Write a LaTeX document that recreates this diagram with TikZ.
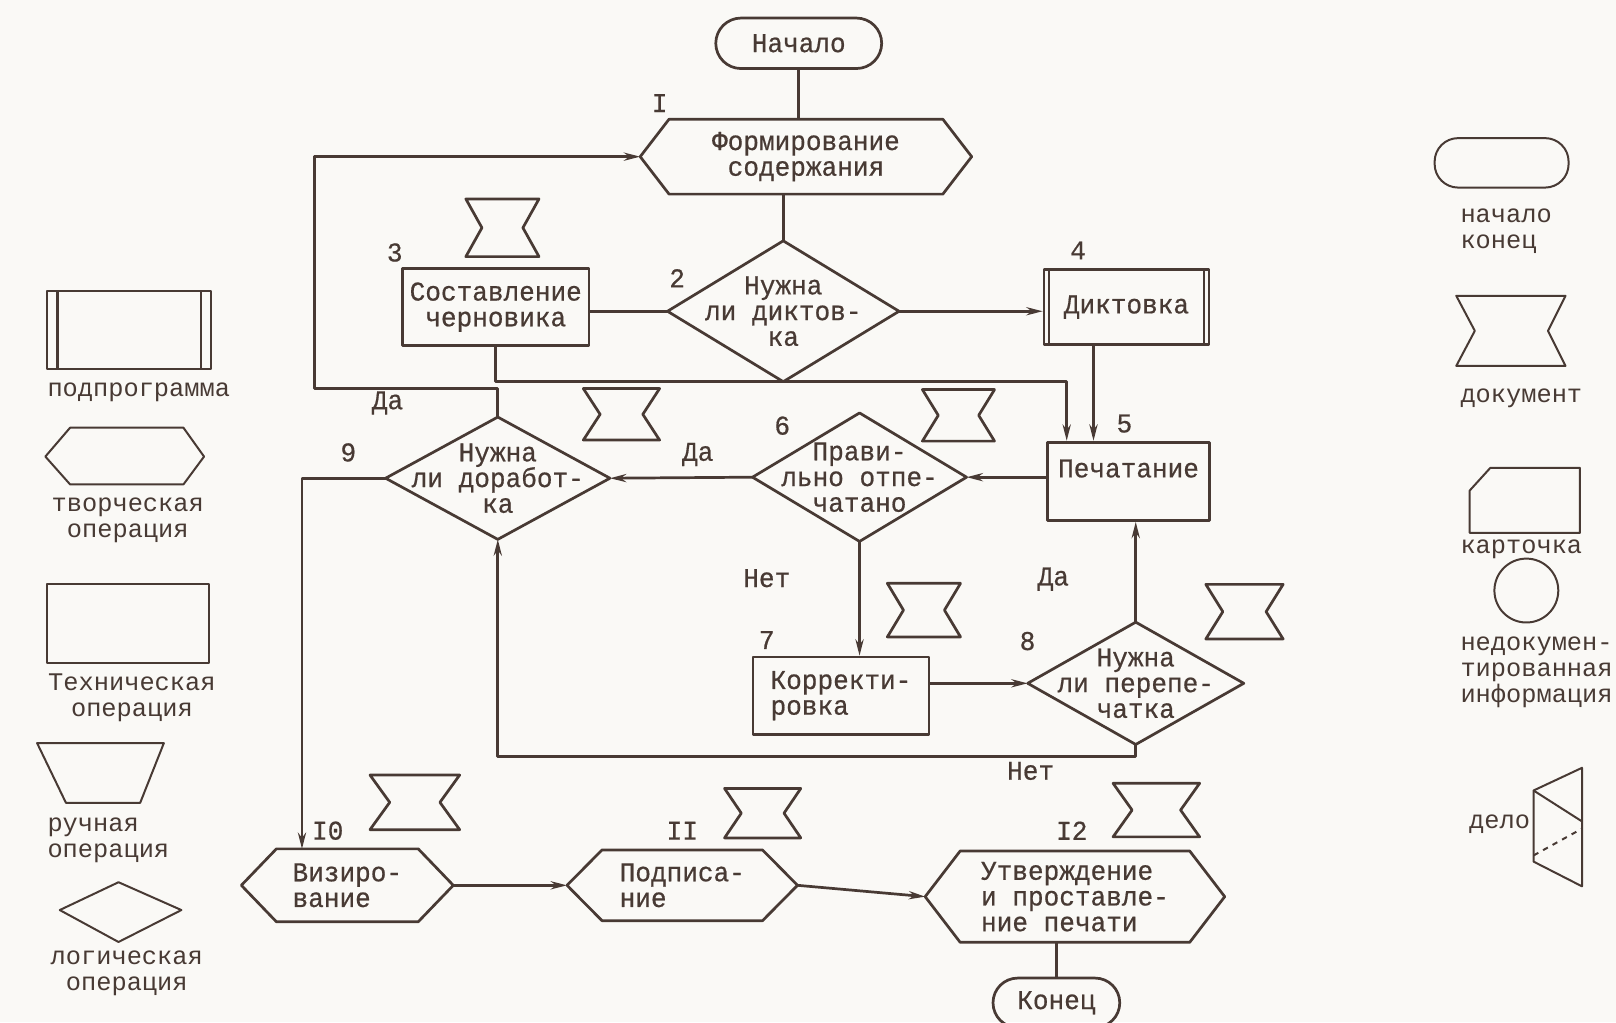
\documentclass[tikz,border=0pt]{standalone}
\usepackage{fontspec}
\newfontfamily\tw[FakeStretch=0.96,FakeBold=0.6]{Liberation Mono}
\newfontfamily\lgfont{Liberation Mono}
\usetikzlibrary{arrows.meta,shapes.misc}
\definecolor{ink}{RGB}{72,58,52}
\definecolor{paper}{RGB}{250,249,246}

\begin{document}
\begin{tikzpicture}[x=0.02cm,y=-0.02cm,
    every node/.style={text=ink,font={\tw\fontsize{15pt}{14.2pt}\selectfont},inner sep=1pt},
    flowline/.style={draw=ink,line width=1.5pt,line join=round},
    flowarrow/.style={flowline,-{Stealth[length=9pt,width=4.5pt]}},
    startend/.style={flowline,rounded rectangle,inner sep=0pt},
    techop/.style={flowline,rectangle,inner sep=0pt},
    logic/.style={rectangle,inner sep=0pt,align=center},
    creative/.style={rectangle,inner sep=0pt},
    legend/.style={font={\lgfont\fontsize{14pt}{14.4pt}\selectfont}},
    thinline/.style={draw=ink,line width=1.1pt,line join=round}]
    \useasboundingbox (0,0) rectangle (1568,992);
    \fill[paper] (0,0) rectangle (1568,992);

    % blocks of the scheme
    \node[startend,minimum width=3.22cm,minimum height=0.98cm] (start) at (775,42) {Начало};
    \node[creative,minimum width=6.42cm,minimum height=1.44cm,align=center] (form) at (782,152) {Формирование\\содержания};
    \node[logic,minimum width=4.48cm,minimum height=2.72cm] (d2) at (760,302) {Нужна\\ли диктов-\\ка};
    \node[techop,minimum width=3.62cm,minimum height=1.5cm,align=center] (draft) at (481,298) {Составление\\черновика};
    \node[techop,minimum width=3.2cm,minimum height=1.46cm] (dict) at (1093,298) {Диктовка};
    \node[techop,minimum width=3.14cm,minimum height=1.52cm,align=left] (print) at (1095,467) {Печатание\\~};
    \node[logic,minimum width=4.14cm,minimum height=2.48cm] (d6) at (834,463) {Прави-\\льно отпе-\\чатано};
    \node[logic,minimum width=4.34cm,minimum height=2.36cm] (d9) at (483,464) {Нужна\\ли доработ-\\ка};
    \node[techop,minimum width=3.42cm,minimum height=1.5cm,align=left] (corr) at (816,675) {Корректи-\\ровка};
    \node[logic,minimum width=4.18cm,minimum height=2.36cm] (d8) at (1102,663) {Нужна\\ли перепе-\\чатка};
    \node[creative,minimum width=4.1cm,minimum height=1.4cm,align=left] (viz) at (337,859) {Визиро-\\вание};
    \node[creative,minimum width=4.46cm,minimum height=1.36cm,align=left] (podp) at (662,859) {Подписа-\\ние};
    \node[creative,minimum width=5.8cm,minimum height=1.76cm,align=left] (appr) at (1043,870) {Утверждение\\и проставле-\\ние печати};
    \node[startend,minimum width=2.46cm,minimum height=0.96cm] (finish) at (1025,973) {Конец};

    \foreach \n/\p in {form/0.56cm,viz/0.68cm,podp/0.68cm,appr/0.68cm}
        \draw[flowline] (\n.west) -- ([xshift=\p]\n.north west) -- ([xshift=-\p]\n.north east) -- (\n.east) -- ([xshift=-\p]\n.south east) -- ([xshift=\p]\n.south west) -- cycle;
    \foreach \n in {d2,d6,d8,d9}
        \draw[flowline] (\n.north) -- (\n.east) -- (\n.south) -- (\n.west) -- cycle;
    \draw[flowline] ([xshift=0.12cm]dict.north west) -- ([xshift=0.12cm]dict.south west)
        ([xshift=-0.12cm]dict.north east) -- ([xshift=-0.12cm]dict.south east);

    % documents
    \foreach \xa/\ya/\xb/\yb in {452/193/523/249,566/377/640/427,895/378/965/428,861/566/932/618,1170/567/1245/620,359/752/446/805,703/765/777/813,1080/760/1164/812}
        \draw[flowline] (\xa,\ya) -- (\xb,\ya) -- ({\xb-0.22*(\xb-\xa)},{(\ya+\yb)/2}) -- (\xb,\yb) -- (\xa,\yb) -- ({\xa+0.22*(\xb-\xa)},{(\ya+\yb)/2}) -- cycle;

    % connectors
    \coordinate (loopcorner) at (305,377);
    \draw[flowline] (start.south) -- (start.south |- form.north);
    \draw[flowline] (d2.north |- form.south) -- (d2.north);
    \draw[flowline] (d2.west) -- (d2.west -| draft.east);
    \draw[flowarrow] (d2.east) -- (d2.east -| dict.west);
    \draw[flowarrow] (draft.south) |- (d2.south) -| ([xshift=-1.2cm]print.north);
    \draw[flowarrow] ([xshift=-0.64cm]dict.south) -- ([xshift=-0.64cm]dict.south |- print.north);
    \draw[flowarrow] (print.west |- d6.east) -- (d6.east);
    \draw[flowarrow] (d6.west) -- (d9.east);
    \draw[flowarrow] (d6.south) -- (d6.south |- corr.north);
    \draw[flowarrow] (corr.east |- d8.west) -- (d8.west);
    \draw[flowarrow] (d8.north) -- (d8.north |- print.south);
    \draw[flowarrow] (d8.south) -- ++(0,12) -| (d9.south);
    \draw[flowarrow] (d9.north) |- (loopcorner) |- (form.west);
    \draw[flowarrow] (d9.west) -| ([xshift=-0.88cm]viz.north);
    \draw[flowarrow] (viz.east) -- (podp.west);
    \draw[flowarrow] (podp.east) -- (appr.west);
    \draw[flowline] (finish.north |- appr.south) -- (finish.north);

    % numbers and answers
    \node (n1) at (640,100) {I};
    \node (n2) at (657,270) {2};
    \node (n3) at (383,245) {3};
    \node (n4) at (1046,243) {4};
    \node (n5) at (1091,411) {5};
    \node (n6) at (759,413) {6};
    \node (n7) at (744,621) {7};
    \node (n8) at (997,622) {8};
    \node (n9) at (338,439) {9};
    \node (n10) at (318,806) {I0};
    \node (n11) at (662,806) {II};
    \node (n12) at (1040,806) {I2};
    \node (yes1) at (376,391) {Да};
    \node (yes2) at (677,441) {Да};
    \node (yes3) at (1022,562) {Да};
    \node (no1) at (744,561) {Нет};
    \node (no2) at (1000,748) {Нет};

    % legend, left
    \draw[thinline] (46,282) rectangle (205,358);
    \draw[flowline] (56,282) -- (56,358) (195,282) -- (195,358);
    \node[legend,anchor=west] (lsub) at (44,381) {подпрограмма};
    \draw[thinline] (44,443) -- (68,415) -- (178,415) -- (198,443) -- (178,470) -- (68,470) -- cycle;
    \node[legend,align=center] (lcre) at (124,505) {творческая\\операция};
    \draw[thinline] (46,567) rectangle (203,643);
    \node[legend,align=center] (ltech) at (128,677) {Техническая\\операция};
    \draw[thinline] (36,721) -- (159,721) -- (136,779) -- (64,779) -- cycle;
    \node[legend,align=left,anchor=west] (lman) at (44,815) {ручная\\операция};
    \draw[thinline] (58,883) -- (115,856) -- (176,883) -- (115,914) -- cycle;
    \node[legend,align=center] (llog) at (123,944) {логическая\\операция};

    % legend, right
    \draw[thinline,rounded corners=13pt] (1392,134) rectangle (1522,182);
    \node[legend,align=left,anchor=west] (lse) at (1415,224) {начало\\конец};
    \draw[thinline] (1413,287) -- (1519,287) -- (1502,321) -- (1519,355) -- (1413,355) -- (1431,321) -- cycle;
    \node[legend,anchor=west] (ldoc) at (1415,386) {документ};
    \draw[thinline] (1446,454) -- (1533,454) -- (1533,517) -- (1426,517) -- (1426,476) -- cycle;
    \node[legend,anchor=west] (lcard) at (1415,533) {карточка};
    \draw[thinline] (1481,573) circle[radius=0.62cm];
    \node[legend,align=left,anchor=west] (linfo) at (1415,652) {недокумен-\\тированная\\информация};
    \node[legend] (lcase) at (1455,800) {дело};
    \draw[thinline] (1488,767) -- (1535,745) -- (1535,860) -- (1488,836) -- cycle;
    \draw[thinline] (1488,767) -- (1535,797);
    \draw[thinline,dashed] (1488,830) -- (1535,804);
\end{tikzpicture}
\end{document}
